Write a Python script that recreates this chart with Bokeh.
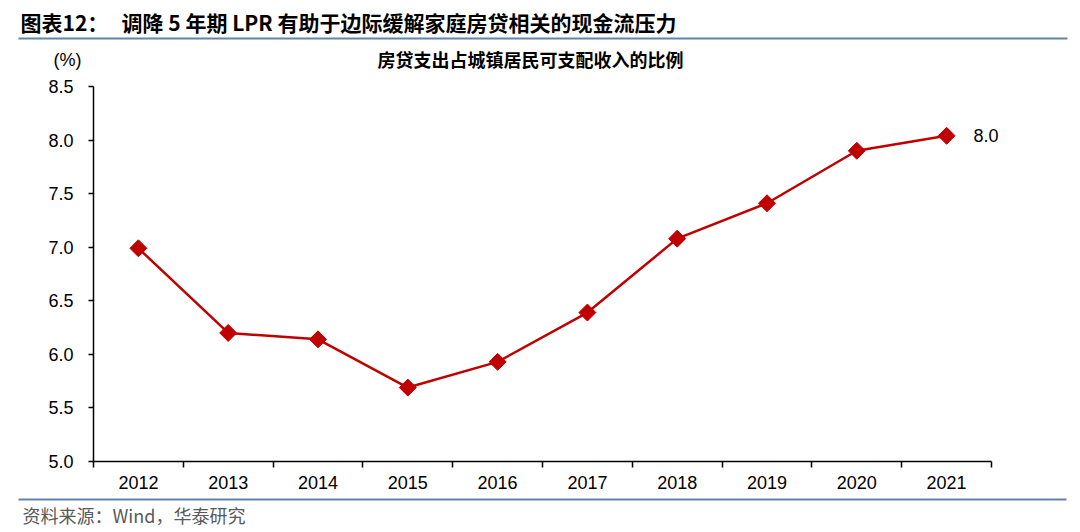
from math import pi
from bokeh.plotting import figure
from bokeh.models import Range1d, FixedTicker, PrintfTickFormatter, ColumnDataSource
from bokeh.core.properties import value
from bokeh.embed import file_html
from bokeh.resources import INLINE

# ---- data ----
years = ["2012", "2013", "2014", "2015", "2016", "2017", "2018", "2019", "2020", "2021"]
ratio = [6.99, 6.20, 6.14, 5.69, 5.93, 6.39, 7.08, 7.41, 7.90, 8.04]
y_ticks = [5.0, 5.5, 6.0, 6.5, 7.0, 7.5, 8.0, 8.5]

title_prefix = "图表12："
title_main = "调降 5 年期 LPR 有助于边际缓解家庭房贷相关的现金流压力"
subtitle = "房贷支出占城镇居民可支配收入的比例"
unit_label = "(%)"
source_text = "资料来源：Wind，华泰研究"

RED = "#C00000"
BLUE = "#6283aa"
CJK = value("Noto Sans CJK SC")
LAT = value("Liberation Sans")

W, H = 1080, 532
# chart area (axes box) in canvas pixels
AX_L, AX_R, AX_T, AX_B = 93, 991, 86, 461

xs = list(range(len(years)))
X0, X1 = -0.5, len(years) - 0.5
Y0, Y1 = y_ticks[0], y_ticks[-1]
SX = (AX_R - AX_L) / (X1 - X0)   # px per x unit
SY = (AX_B - AX_T) / (Y1 - Y0)   # px per y unit

def px2x(px):
    return X0 + (px - AX_L) / SX

def py2y(py):
    return Y1 - (py - AX_T) / SY

src = ColumnDataSource(dict(x=xs, y=ratio, year=years))

p = figure(width=W, height=H,
           x_range=Range1d(px2x(0), px2x(W)), y_range=Range1d(py2y(H), py2y(0)),
           toolbar_location=None, output_backend="svg", min_border=0,
           outline_line_color=None)
p.grid.visible = False

p.line("x", "y", source=src, line_color=RED, line_width=2.5)
p.scatter("x", "y", source=src, marker="square", size=12, angle=pi / 4,
          fill_color=RED, line_color=RED)

last = len(years) - 1
p.text(x=[xs[last]], y=[ratio[last]], text=[f"{ratio[last]:.1f}"], x_offset=27,
       text_font=LAT, text_font_size="18px", text_baseline="middle", text_align="left",
       text_color="#000000")

# axes
xa = p.xaxis[0]
xa.fixed_location = Y0
xa.bounds = (X0, X1)
xa.ticker = FixedTicker(ticks=xs, minor_ticks=[i - 0.5 for i in range(len(years) + 1)])
xa.major_label_overrides = {i: y for i, y in zip(xs, years)}
xa.major_tick_out = 0
xa.major_tick_in = 0
xa.minor_tick_out = 6
xa.minor_tick_in = 0
xa.minor_tick_line_color = "#000000"
xa.minor_tick_line_width = 1.5
xa.axis_line_color = "#000000"
xa.axis_line_width = 1.5
xa.major_label_standoff = 8
xa.major_label_text_font = "Liberation Sans"
xa.major_label_text_font_size = "18px"
xa.major_label_text_color = "#000000"

ya = p.yaxis[0]
ya.fixed_location = X0
ya.bounds = (Y0, Y1)
ya.ticker = FixedTicker(ticks=y_ticks, minor_ticks=[])
ya.formatter = PrintfTickFormatter(format="%.1f")
ya.major_tick_out = 5
ya.major_tick_in = 0
ya.minor_tick_out = 0
ya.minor_tick_in = 0
ya.major_tick_line_color = "#000000"
ya.major_tick_line_width = 1.5
ya.axis_line_color = "#000000"
ya.axis_line_width = 1.5
ya.major_label_standoff = 15
ya.major_label_text_font = "Liberation Sans"
ya.major_label_text_font_size = "18px"
ya.major_label_text_color = "#000000"

# header
p.text(x=[px2x(20)], y=[py2y(21)], text=[title_prefix], text_font=CJK, text_font_style="bold",
       text_font_size="21px", text_baseline="middle", text_align="left", text_color="#000000")
p.text(x=[px2x(121)], y=[py2y(21)], text=[title_main], text_font=CJK, text_font_style="bold",
       text_font_size="21px", text_baseline="middle", text_align="left", text_color="#000000")
p.segment(x0=[px2x(18)], y0=[py2y(38)], x1=[px2x(1067)], y1=[py2y(38)],
          line_color=BLUE, line_width=1.8)
p.text(x=[px2x(530)], y=[py2y(58)], text=[subtitle], text_font=CJK, text_font_style="bold",
       text_font_size="18px", text_baseline="middle", text_align="center", text_color="#000000")
p.text(x=[px2x(67)], y=[py2y(59)], text=[unit_label], text_font=LAT,
       text_font_size="18px", text_baseline="middle", text_align="center", text_color="#000000")

# footer
p.segment(x0=[px2x(18)], y0=[py2y(499)], x1=[px2x(1066)], y1=[py2y(499)],
          line_color=BLUE, line_width=1.8)
p.text(x=[px2x(22)], y=[py2y(514)], text=[source_text], text_font=CJK,
       text_font_size="18px", text_baseline="middle", text_align="left", text_color="#595959")

open("out.html", "w").write(file_html(p, INLINE))
